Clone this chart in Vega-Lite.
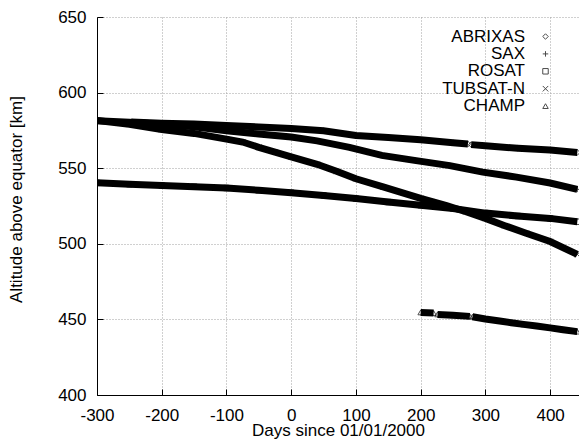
{
  "$schema": "https://vega.github.io/schema/vega-lite/v6.json",
  "width": 482,
  "height": 378,
  "autosize": {"type": "none"},
  "padding": {"left": 97, "top": 17, "right": 0, "bottom": 44},
  "background": "white",
  "config": {
    "view": {"stroke": null},
    "font": "Liberation Sans",
    "axis": {
      "labelFont": "Liberation Sans", "labelFontSize": 17, "labelColor": "black",
      "titleFont": "Liberation Sans", "titleFontSize": 17, "titleFontWeight": "normal", "titleColor": "black",
      "domainColor": "black", "domainWidth": 1, "tickColor": "black", "tickSize": -6, "tickWidth": 1,
      "gridColor": "#a0a0a0", "gridDash": [1, 2], "gridWidth": 1,
      "labelFlush": false, "labelOverlap": false
    },
    "legend": {
      "labelFont": "Liberation Sans", "labelFontSize": 17, "labelColor": "black"
    }
  },
  "data": {
    "values": [
      {"series": "ABRIXAS", "seg": "a1", "day": -247, "alt": 580.6},
      {"series": "ABRIXAS", "seg": "a1", "day": -200, "alt": 579.8},
      {"series": "ABRIXAS", "seg": "a1", "day": -150, "alt": 579.2},
      {"series": "ABRIXAS", "seg": "a1", "day": -100, "alt": 578.3},
      {"series": "ABRIXAS", "seg": "a1", "day": -50, "alt": 577.3},
      {"series": "ABRIXAS", "seg": "a1", "day": 0, "alt": 576.2},
      {"series": "ABRIXAS", "seg": "a1", "day": 50, "alt": 574.8},
      {"series": "ABRIXAS", "seg": "a1", "day": 100, "alt": 571.6},
      {"series": "ABRIXAS", "seg": "a1", "day": 150, "alt": 570.3},
      {"series": "ABRIXAS", "seg": "a1", "day": 200, "alt": 568.8},
      {"series": "ABRIXAS", "seg": "a1", "day": 250, "alt": 566.9},
      {"series": "ABRIXAS", "seg": "a1", "day": 273, "alt": 566.0},
      {"series": "ABRIXAS", "seg": "a2", "day": 278, "alt": 565.6},
      {"series": "ABRIXAS", "seg": "a2", "day": 300, "alt": 564.8},
      {"series": "ABRIXAS", "seg": "a2", "day": 350, "alt": 563.2},
      {"series": "ABRIXAS", "seg": "a2", "day": 400, "alt": 562.0},
      {"series": "ABRIXAS", "seg": "a2", "day": 442, "alt": 560.4},

      {"series": "SAX", "seg": "s1", "day": -300, "alt": 581.4},
      {"series": "SAX", "seg": "s1", "day": -250, "alt": 580.4},
      {"series": "SAX", "seg": "s1", "day": -200, "alt": 579.0},
      {"series": "SAX", "seg": "s1", "day": -150, "alt": 577.4},
      {"series": "SAX", "seg": "s1", "day": -100, "alt": 574.8},
      {"series": "SAX", "seg": "s1", "day": -50, "alt": 572.6},
      {"series": "SAX", "seg": "s1", "day": 0, "alt": 570.6},
      {"series": "SAX", "seg": "s1", "day": 40, "alt": 568.1},
      {"series": "SAX", "seg": "s1", "day": 90, "alt": 563.8},
      {"series": "SAX", "seg": "s1", "day": 140, "alt": 558.5},
      {"series": "SAX", "seg": "s1", "day": 193, "alt": 555.0},
      {"series": "SAX", "seg": "s1", "day": 245, "alt": 551.7},
      {"series": "SAX", "seg": "s1", "day": 296, "alt": 547.4},
      {"series": "SAX", "seg": "s1", "day": 348, "alt": 544.1},
      {"series": "SAX", "seg": "s1", "day": 400, "alt": 540.2},
      {"series": "SAX", "seg": "s1", "day": 442, "alt": 536.0},

      {"series": "ROSAT", "seg": "r1", "day": -300, "alt": 540.3},
      {"series": "ROSAT", "seg": "r1", "day": -250, "alt": 539.4},
      {"series": "ROSAT", "seg": "r1", "day": -200, "alt": 538.6},
      {"series": "ROSAT", "seg": "r1", "day": -150, "alt": 537.8},
      {"series": "ROSAT", "seg": "r1", "day": -100, "alt": 536.9},
      {"series": "ROSAT", "seg": "r1", "day": -50, "alt": 535.4},
      {"series": "ROSAT", "seg": "r1", "day": 0, "alt": 533.8},
      {"series": "ROSAT", "seg": "r1", "day": 50, "alt": 532.0},
      {"series": "ROSAT", "seg": "r1", "day": 100, "alt": 529.9},
      {"series": "ROSAT", "seg": "r1", "day": 150, "alt": 527.6},
      {"series": "ROSAT", "seg": "r1", "day": 200, "alt": 525.5},
      {"series": "ROSAT", "seg": "r1", "day": 250, "alt": 523.3},
      {"series": "ROSAT", "seg": "r1", "day": 300, "alt": 520.3},
      {"series": "ROSAT", "seg": "r1", "day": 350, "alt": 518.4},
      {"series": "ROSAT", "seg": "r1", "day": 400, "alt": 516.8},
      {"series": "ROSAT", "seg": "r1", "day": 442, "alt": 514.6},

      {"series": "TUBSAT-N", "seg": "t1", "day": -300, "alt": 581.6},
      {"series": "TUBSAT-N", "seg": "t1", "day": -250, "alt": 579.0},
      {"series": "TUBSAT-N", "seg": "t1", "day": -200, "alt": 575.5},
      {"series": "TUBSAT-N", "seg": "t1", "day": -150, "alt": 573.0},
      {"series": "TUBSAT-N", "seg": "t1", "day": -100, "alt": 569.2},
      {"series": "TUBSAT-N", "seg": "t1", "day": -75, "alt": 567.3},
      {"series": "TUBSAT-N", "seg": "t1", "day": -50, "alt": 563.8},
      {"series": "TUBSAT-N", "seg": "t1", "day": -25, "alt": 560.6},
      {"series": "TUBSAT-N", "seg": "t1", "day": 0, "alt": 557.5},
      {"series": "TUBSAT-N", "seg": "t1", "day": 40, "alt": 552.6},
      {"series": "TUBSAT-N", "seg": "t1", "day": 70, "alt": 548.0},
      {"series": "TUBSAT-N", "seg": "t1", "day": 100, "alt": 543.0},
      {"series": "TUBSAT-N", "seg": "t1", "day": 142, "alt": 537.6},
      {"series": "TUBSAT-N", "seg": "t1", "day": 200, "alt": 530.0},
      {"series": "TUBSAT-N", "seg": "t1", "day": 240, "alt": 525.2},
      {"series": "TUBSAT-N", "seg": "t1", "day": 270, "alt": 521.2},
      {"series": "TUBSAT-N", "seg": "t1", "day": 300, "alt": 516.8},
      {"series": "TUBSAT-N", "seg": "t1", "day": 330, "alt": 512.0},
      {"series": "TUBSAT-N", "seg": "t1", "day": 363, "alt": 507.0},
      {"series": "TUBSAT-N", "seg": "t1", "day": 400, "alt": 501.5},
      {"series": "TUBSAT-N", "seg": "t1", "day": 442, "alt": 493.0},

      {"series": "CHAMP", "seg": "c1", "day": 200, "alt": 454.6},
      {"series": "CHAMP", "seg": "c1", "day": 220, "alt": 454.2},
      {"series": "CHAMP", "seg": "c2", "day": 226, "alt": 453.3},
      {"series": "CHAMP", "seg": "c2", "day": 250, "alt": 452.7},
      {"series": "CHAMP", "seg": "c2", "day": 276, "alt": 452.0},
      {"series": "CHAMP", "seg": "c3", "day": 280, "alt": 451.8},
      {"series": "CHAMP", "seg": "c3", "day": 300, "alt": 450.3},
      {"series": "CHAMP", "seg": "c3", "day": 322, "alt": 448.9},
      {"series": "CHAMP", "seg": "c3", "day": 340, "alt": 447.8},
      {"series": "CHAMP", "seg": "c3", "day": 359, "alt": 446.7},
      {"series": "CHAMP", "seg": "c3", "day": 379, "alt": 445.6},
      {"series": "CHAMP", "seg": "c3", "day": 400, "alt": 444.4},
      {"series": "CHAMP", "seg": "c3", "day": 420, "alt": 443.2},
      {"series": "CHAMP", "seg": "c3", "day": 442, "alt": 441.9}
    ]
  },
  "encoding": {
    "x": {
      "field": "day", "type": "quantitative",
      "scale": {"domain": [-300, 444.6], "nice": false, "zero": false},
      "axis": {
        "title": "Days since 01/01/2000",
        "values": [-300, -200, -100, 0, 100, 200, 300, 400],
        "labelExpr": "datum.value < 0 ? '-' + abs(datum.value) : '' + datum.value",
        "labelPadding": 18,
        "titleBaseline": "alphabetic", "titleY": 40
      }
    },
    "y": {
      "field": "alt", "type": "quantitative",
      "scale": {"domain": [400, 650], "nice": false, "zero": false},
      "axis": {
        "title": "Altitude above equator [km]",
        "values": [400, 450, 500, 550, 600, 650],
        "labelPadding": 17,
        "titleBaseline": "alphabetic", "titleX": -76, "titleY": 182, "titleAlign": "center", "titleAngle": -90
      }
    }
  },
  "layer": [
    {
      "mark": {"type": "line", "color": "black", "strokeCap": "butt", "strokeWidth": 7, "clip": true},
      "encoding": {
        "detail": {"field": "seg"}
      }
    },
    {
      "mark": {"type": "point", "color": "black", "filled": false, "size": 30, "strokeWidth": 1, "clip": true},
      "encoding": {
        "shape": {
          "field": "series", "type": "nominal",
          "scale": {
            "domain": ["ABRIXAS", "SAX", "ROSAT", "TUBSAT-N", "CHAMP"],
            "range": ["diamond", "M-1,0L1,0M0,-1L0,1", "square", "M-1,-1L1,1M-1,1L1,-1", "triangle-up"]
          },
          "legend": {
            "title": null,
            "orient": "none",
            "legendX": 440,
            "legendY": 11,
            "padding": 0,
            "rowPadding": -0.6,
            "symbolSize": 30,
            "symbolStrokeWidth": 1,
            "symbolStrokeColor": "black",
            "symbolFillColor": "transparent",
            "labelAlign": "right",
            "labelOffset": -29,
            "labelBaseline": "middle"
          }
        }
      }
    }
  ]
}
